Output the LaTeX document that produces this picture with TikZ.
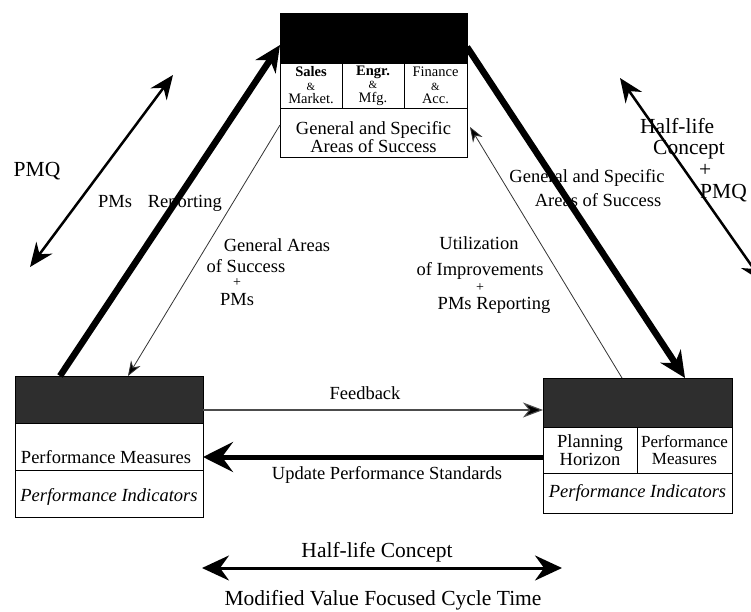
\documentclass[tikz,border=0pt]{standalone}
\usepackage{fontspec}
\setmainfont{Liberation Serif}
\usetikzlibrary{arrows.meta,calc}
\begin{document}
\begin{tikzpicture}[x=1pt,y=-1pt,
  txt/.style={font=\fontsize{18.5}{20}\selectfont, inner sep=0pt},
  plus/.style={font=\fontsize{14}{14}\selectfont, inner sep=0pt},
  bigtxt/.style={font=\fontsize{21.5}{24}\selectfont, inner sep=0pt},
  bigstack/.style={font=\fontsize{21.5}{21.7}\selectfont, inner sep=0pt, align=left},
  celltxt/.style={font=\fontsize{14.5}{13.5}\selectfont, align=center},
  boxtxt/.style={font=\fontsize{18.5}{18.5}\selectfont, align=center},
  smalltxt/.style={font=\fontsize{17}{16.5}\selectfont, align=center},
  cellbox/.style={draw=black, line width=0.8pt, inner sep=0pt, outer sep=0pt},
  darkhead/.style={cellbox, fill=black!82},
  heavy/.style={line width=6.5pt, -{Stealth[length=26pt,width=24pt,inset=8pt]}},
  thinflow/.style={line width=0.8pt, draw=black!80, -{Stealth[length=15pt,width=11pt,inset=5pt,fill=black]}},
  feedflow/.style={line width=1.1pt, draw=black!70, -{Stealth[length=20pt,width=15pt,inset=6pt,fill=black]}},
  updflow/.style={line width=5pt, -{Stealth[length=30pt,width=30pt,inset=11pt]}},
  twoway/.style={line width=2.5pt, {Stealth[length=24pt,width=20pt,inset=8pt]}-{Stealth[length=24pt,width=20pt,inset=8pt]}},
  bottomway/.style={line width=3pt, {Stealth[length=27pt,width=25pt,inset=9pt]}-{Stealth[length=27pt,width=25pt,inset=9pt]}}
]
\useasboundingbox (0,0) rectangle (751,612);
\clip (0,0) rectangle (751,612);

% small ampersand used inside the functional-area cells
\newcommand{\smallamp}{{\fontsize{11}{11}\selectfont\&}}

% ---- top block: functional areas ----
\node[cellbox, fill=black, minimum width=187pt, minimum height=50pt] (tophead) at (373.5,38) {};
\node[cellbox, celltxt, minimum width=62pt, minimum height=45pt] (sales) at (311,85.5) {\textbf{Sales}\\\smallamp\\Market.};
\node[cellbox, celltxt, minimum width=62pt, minimum height=45pt] (engr) at (373,85.5) {\textbf{Engr.}\\\smallamp\\Mfg.};
\node[cellbox, celltxt, minimum width=63pt, minimum height=45pt] (fin) at (435.5,85.5) {Finance\\\smallamp\\Acc.};
\node[cellbox, minimum width=187pt, minimum height=49pt] (topfoot) at (373.5,132.5) {};
\node[boxtxt] (topfoottxt) at (373.5,137) {General and Specific\\Areas of Success};

% ---- left block ----
\node[darkhead, minimum width=188pt, minimum height=47pt] (lefthead) at (109,399.5) {};
\node[cellbox, minimum width=188pt, minimum height=47pt] (leftmid) at (109,446.5) {};
\node[cellbox, minimum width=188pt, minimum height=47pt] (leftfoot) at (109,493.5) {};
\node[txt] (leftmidtxt) at (106,457) {Performance Measures};
\node[txt] (leftfoottxt) at (109,497) {\itshape Performance Indicators};

% ---- right block ----
\node[darkhead, minimum width=189pt, minimum height=49pt] (righthead) at (637.5,402.5) {};
\node[cellbox, boxtxt, minimum width=94pt, minimum height=46pt] (rightA) at (590,450) {Planning\\Horizon};
\node[cellbox, smalltxt, minimum width=95pt, minimum height=46pt] (rightB) at (684.5,450) {Performance\\Measures};
\node[cellbox, minimum width=189pt, minimum height=40pt] (rightfoot) at (637.5,493) {};
\node[txt] (rightfoottxt) at (637.5,493) {\itshape Performance Indicators};

% ---- heavy flows between the blocks ----
\draw[heavy] ([xshift=45pt]lefthead.north west) -- ([yshift=-7pt]tophead.west);
\draw[heavy] ([yshift=-9pt]tophead.east) -- ([xshift=142pt]righthead.north west);
\draw[updflow] ([yshift=-7pt]rightA.west) -- ([yshift=-10.5pt]leftmid.east);

% ---- thin flows ----
\draw[thinflow] ([yshift=7.5pt]topfoot.west) -- ([xshift=113pt]lefthead.north west);
\draw[thinflow] ([xshift=79pt]righthead.north west) -- ([yshift=5.5pt,xshift=3pt]topfoot.east);
\draw[feedflow] ([yshift=-10.5pt]lefthead.east) -- ([yshift=-7.5pt]righthead.west);

% ---- free two-way arrows ----
\coordinate (pmqA) at (173,75);
\coordinate (pmqB) at (30,267);
\draw[twoway] (pmqA) -- (pmqB);
\coordinate (hlA) at (620,78);
\coordinate (hlB) at (763,282);
\draw[twoway] (hlA) -- (hlB);
\coordinate (cycA) at (202,568);
\coordinate (cycB) at (562,568);
\draw[bottomway] (cycA) -- (cycB);

% ---- labels ----
\node[bigtxt] (pmq) at (37,171) {PMQ};
\node[txt] (pmsrep) at (160,203) {PMs\hspace{0.85em}Reporting};
\node[txt] (gaA) at (277,245) {General Areas};
\node[txt] (gaB) at (246,266) {of Success};
\node[plus] (gaC) at (237,283) {+};
\node[txt] (gaD) at (237,300) {PMs};
\node[txt] (gsA) at (587,178) {General and Specific};
\node[txt] (gsB) at (598,200) {Areas of Success};
\node[txt] (utA) at (479,243) {Utilization};
\node[txt] (utB) at (480,271) {of Improvements};
\node[plus] (utC) at (480,288) {+};
\node[txt] (utD) at (494,305) {PMs Reporting};
\node[bigstack, anchor=west] (hf) at (640,160) {Half-life\\\hspace*{13pt}Concept\\\hspace*{59pt}+\\\hspace*{60pt}PMQ};
\node[txt] (feed) at (365,393) {Feedback};
\node[txt] (upd) at (387,475) {Update Performance Standards};
\node[bigtxt] (hlc) at (377,552) {Half-life Concept};
\node[bigtxt] (mvf) at (383,600) {Modified Value Focused Cycle Time};
\end{tikzpicture}
\end{document}
